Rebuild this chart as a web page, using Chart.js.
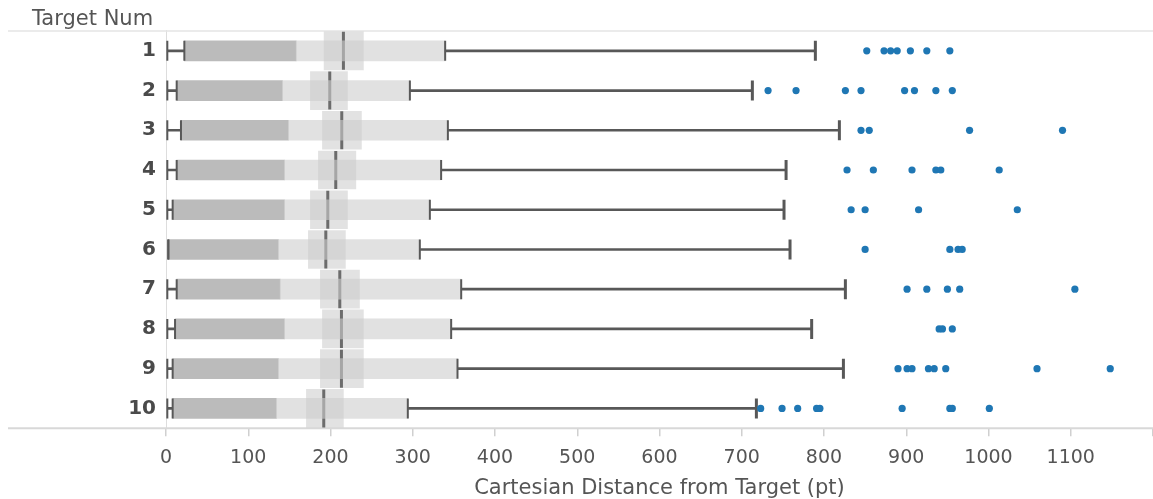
<!DOCTYPE html>
<html>
<head>
<meta charset="utf-8">
<script src="https://cdn.jsdelivr.net/npm/chart.js@4/dist/chart.umd.min.js"></script>
<style>
  html, body { margin: 0; padding: 0; background: #fff; }
  #chart { display: block; }
</style>
</head>
<body>
<canvas id="chart" width="1153" height="499"></canvas>
<script>
// one row per target
const targets = ["1", "2", "3", "4", "5", "6", "7", "8", "9", "10"];

const whiskerLow  = [1.6, 1.6, 1.6, 1.6, 1.6, 2.8, 1.6, 1.6, 1.6, 1.6];
const boxStart    = [22.3, 13, 18.2, 13, 8.1, 2.8, 13, 11, 8.1, 8.1];
const q1          = [158.2, 141.5, 148.8, 144, 144, 136.6, 138.7, 144, 136.6, 134.2];
const q3          = [339.4, 296.5, 342.7, 334.5, 320.8, 308.6, 358.9, 346.7, 354.4, 294];
const whiskerHigh = [789.5, 712.9, 818.7, 753.9, 751.4, 758.7, 826, 785, 823.6, 717.8];
const medians     = [215.7, 199.1, 213.7, 206.4, 196.7, 194.3, 211.3, 213.3, 213.3, 191.8];
const notchLow    = [192.2, 175.6, 190.2, 185.3, 175.6, 173.1, 187.7, 190.2, 187.7, 170.7];
const notchHigh   = [240, 220.6, 237.6, 230.8, 220.6, 218.1, 235.2, 240, 240, 215.7];

const outliers = [
  [852, 873, 881, 889, 905, 925, 953],
  [732, 766, 826, 845, 898, 910, 936, 956],
  [845, 855, 977, 1090],
  [828, 860, 907, 936, 942, 1013],
  [833, 850, 915, 1035],
  [850, 953, 963, 968],
  [901, 925, 950, 965, 1105],
  [940, 944, 956],
  [890, 901, 907, 927, 934, 948, 1059, 1148],
  [723, 749, 768, 791, 795, 895, 953, 956, 1001]
];

const xTicksMax = 1200;

const FONT = "'DejaVu Sans', 'Noto Sans', sans-serif";

// helpers to build datasets from the arrays
const ranges = (a, b) => targets.map((t, i) => [a[i], b[i]]);
const points = (vals) => targets.map((t, i) => ({ x: vals[i], y: t }));

const outlierPoints = [];
outliers.forEach((row, i) => {
  row.forEach((v) => outlierPoints.push({ x: v, y: targets[i] }));
});

const boxCaps = [].concat(points(whiskerLow), points(boxStart), points(q3));

// header and bottom rules that run past the plot on the left
const rulesPlugin = {
  id: "rules",
  beforeDatasetsDraw(chart) {
    const { ctx, chartArea } = chart;
    ctx.save();
    ctx.strokeStyle = "#e4e4e4";
    ctx.lineWidth = 1.5;
    ctx.beginPath();
    ctx.moveTo(8, chartArea.top);
    ctx.lineTo(chart.width, chartArea.top);
    ctx.stroke();
    ctx.strokeStyle = "#d8d8d8";
    ctx.lineWidth = 2;
    ctx.beginPath();
    ctx.moveTo(8, chartArea.bottom);
    ctx.lineTo(chart.width, chartArea.bottom);
    ctx.stroke();
    ctx.restore();
  }
};

const barBase = {
  type: "bar",
  indexAxis: "y",
  grouped: false,
  borderWidth: 0
};

new Chart(document.getElementById("chart").getContext("2d"), {
  type: "bar",
  data: {
    labels: targets,
    datasets: [
      { ...barBase, label: "whisker low", data: ranges(whiskerLow, boxStart), backgroundColor: "#585858", barThickness: 2, order: 7 },
      { ...barBase, label: "whisker high", data: ranges(q3, whiskerHigh), backgroundColor: "#585858", barThickness: 2, order: 7 },
      { ...barBase, label: "lower box", data: ranges(boxStart, q1), backgroundColor: "#bbbbbb", barThickness: 20, order: 6 },
      { ...barBase, label: "notch", data: ranges(notchLow, notchHigh), backgroundColor: "rgba(207,207,207,0.6)", barThickness: 38, order: 5 },
      {
        type: "scatter", label: "median", data: points(medians),
        pointStyle: "line", rotation: 90, pointRadius: 19, borderWidth: 3,
        borderColor: "#6c6c6c", backgroundColor: "#6c6c6c", order: 4
      },
      { ...barBase, label: "upper box", data: ranges(q1, q3), backgroundColor: "rgba(205,205,205,0.6)", barThickness: 20, order: 3 },
      {
        type: "scatter", label: "caps", data: boxCaps,
        pointStyle: "line", rotation: 90, pointRadius: 10, borderWidth: 2,
        borderColor: "#585858", order: 2
      },
      {
        type: "scatter", label: "max caps", data: points(whiskerHigh),
        pointStyle: "line", rotation: 90, pointRadius: 10, borderWidth: 3,
        borderColor: "#585858", order: 2
      },
      {
        type: "scatter", label: "outliers", data: outlierPoints,
        pointRadius: 3.6, borderWidth: 0,
        backgroundColor: "#1f77b4", order: 1
      }
    ]
  },
  options: {
    responsive: false,
    animation: false,
    devicePixelRatio: 1,
    events: [],
    layout: { autoPadding: false, padding: { left: 32, right: 0, top: 0, bottom: 0 } },
    plugins: {
      legend: { display: false },
      tooltip: { enabled: false },
      title: {
        display: true,
        text: "Target Num",
        align: "start",
        color: "#555",
        font: { family: FONT, size: 21, weight: "normal", lineHeight: 0.95 },
        padding: { top: 10, bottom: 1 }
      }
    },
    scales: {
      x: {
        type: "linear",
        min: 0,
        max: xTicksMax,
        offset: false,
        border: { display: false },
        grid: { drawOnChartArea: false, offset: false, tickLength: 8, color: "#d0d0d0", lineWidth: 1.5 },
        ticks: {
          stepSize: 100,
          color: "#555",
          padding: 10,
          maxRotation: 0,
          autoSkip: false,
          font: { family: FONT, size: 19 },
          callback: (v) => (v >= xTicksMax ? "" : v)
        },
        title: {
          display: true,
          text: "Cartesian Distance from Target (pt)",
          color: "#555",
          font: { family: FONT, size: 21, lineHeight: 0.95 },
          padding: { top: 0, bottom: 0 }
        },
        afterFit(scale) {
          scale.paddingLeft = 0;
          scale.paddingRight = 0;
        }
      },
      y: {
        type: "category",
        offset: true,
        border: { display: true, color: "#dddddd", width: 1 },
        grid: { display: false },
        ticks: {
          color: "#4a4a4a",
          padding: 2,
          font: { family: FONT, size: 20, weight: "bold" }
        },
        afterFit(scale) { scale.width = 134; }
      }
    }
  },
  plugins: [rulesPlugin]
});
</script>
</body>
</html>
